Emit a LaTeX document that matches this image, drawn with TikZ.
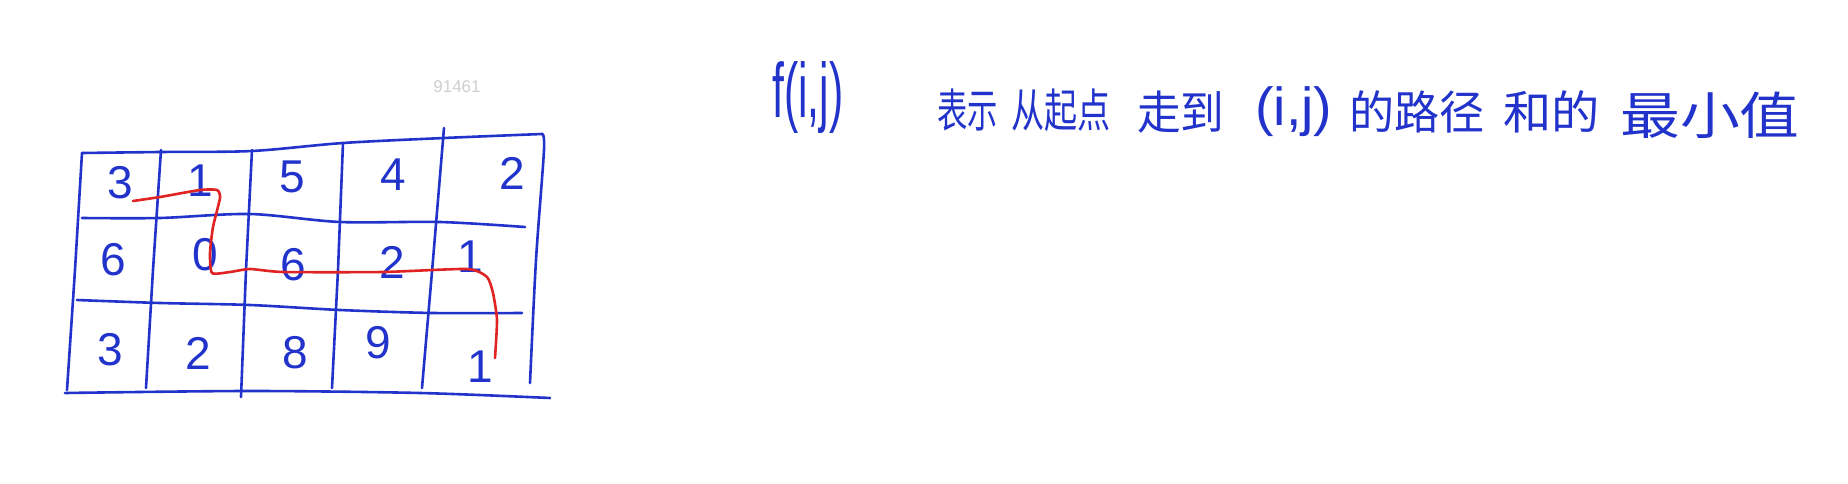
\documentclass[tikz,border=0pt]{standalone}
\usepackage{fontspec}
\usepackage{graphicx}
\newfontfamily\cjk{Noto Sans CJK SC}
\newfontfamily\digitfont{Liberation Sans}
\definecolor{penblue}{HTML}{2233CC}
\definecolor{penred}{HTML}{E02424}
\definecolor{wmgray}{HTML}{CFCFCF}
\newcommand\fitto[3]{\resizebox*{#1}{#2}{#3}}
\begin{document}
\begin{tikzpicture}[x=1pt,y=-1pt,
  gridline/.style={draw=penblue,line width=2.6pt,line cap=round,line join=round},
  pathline/.style={draw=penred,line width=2.6pt,line cap=round,line join=round},
  digit/.style={text=penblue,font=\digitfont\fontsize{46}{46}\selectfont,inner sep=0pt},
  note/.style={text=penblue,font=\cjk\fontsize{46}{46}\selectfont,inner sep=0pt,anchor=west},
  mark91/.style={text=wmgray,font=\digitfont\fontsize{17}{17}\selectfont,inner sep=0pt}]
\useasboundingbox (0,0) rectangle (1848,484);
\fill[white] (0,0) rectangle (1848,484);
% outer frame
\draw[gridline] plot[smooth,tension=0.5] coordinates {(82,153) (160,152) (252,151) (343,143) (444,138) (542,134)};
\draw[gridline] plot[smooth,tension=0.5] coordinates {(542,134) (544,150) (536,260) (530,383)};
\draw[gridline] (82,153) -- (75,270) -- (67,390);
\draw[gridline] plot[smooth,tension=0.5] coordinates {(65,393) (250,391) (420,393) (550,398)};
% verticals
\draw[gridline] (161,150) -- (153,270) -- (146,388);
\draw[gridline] (252,150) -- (246,270) -- (241,397);
\draw[gridline] (343,143) -- (338,270) -- (332,388);
\draw[gridline] (444,128) -- (433,260) -- (422,388);
% horizontals
\draw[gridline] plot[smooth,tension=0.5] coordinates {(82,218) (160,218) (250,214) (340,222) (440,222) (525,227)};
\draw[gridline] plot[smooth,tension=0.5] coordinates {(77,300) (160,303) (250,305) (340,310) (433,313) (522,313)};
% digits
\node[digit] (a11) at (120,183) {3};
\node[digit] (a12) at (200,181) {1};
\node[digit] (a13) at (292,177) {5};
\node[digit] (a14) at (393,175) {4};
\node[digit] (a15) at (512,173) {2};
\node[digit] (a21) at (113,260) {6};
\node[digit] (a22) at (205,255) {0};
\node[digit] (a23) at (293,265) {6};
\node[digit] (a24) at (392,262) {2};
\node[digit] (a25) at (470,257) {1};
\node[digit] (a31) at (110,350) {3};
\node[digit] (a32) at (198,353) {2};
\node[digit] (a33) at (295,353) {8};
\node[digit] (a34) at (378,343) {9};
\node[digit] (a35) at (480,367) {1};
% red path
\draw[pathline] plot[smooth,tension=0.35] coordinates {(133,201) (160,197) (200,190) (217,190) (220,198) (213,227) (210,253) (212,273) (230,272) (250,269) (283,272) (383,272) (467,269) (487,277) (493,293) (497,320) (495,358)};
% watermark
\node[mark91] (wm) at (457,87) {91461};
% note text
\node[note] (t1) at (772,98) {\fitto{71pt}{72pt}{\digitfont f(i,j)}};
\node[note] (t2) at (937,110) {\scalebox{0.66}[1]{表示}};
\node[note] (t3) at (1011,110) {\scalebox{0.72}[1]{从起点}};
\node[note] (t4) at (1137,112) {\scalebox{0.95}[1]{走到}};
\node[note] (t5) at (1255,112) {\fitto{77pt}{50pt}{\digitfont (i,j)}};
\node[note] (t6) at (1349,112) {\scalebox{0.98}[1]{的路径}};
\node[note] (t7) at (1503,112) {\scalebox{1.05}[1]{和的}};
\node[note] (t8) at (1620,115) {\scalebox{1.3}[1.1]{最小值}};
\end{tikzpicture}
\end{document}
